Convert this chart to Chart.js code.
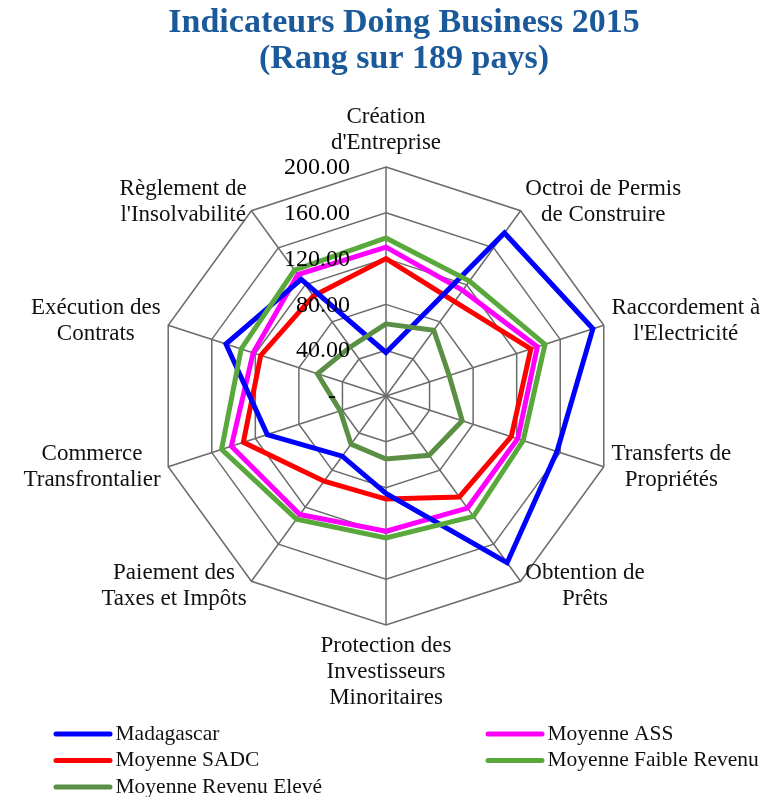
<!DOCTYPE html>
<html>
<head>
<meta charset="utf-8">
<script src="https://cdn.jsdelivr.net/npm/chart.js@4.4.1/dist/chart.umd.min.js"></script>
<style>
  body { margin: 0; background: #fff; }
  #wrap { width: 777px; height: 797px; }
</style>
</head>
<body>
<div id="wrap"><canvas id="radarChart" width="777" height="797"></canvas></div>
<script>
// axes, clockwise from the top
const indicators = [
    ['Création', "d'Entreprise"],
    ['Octroi de Permis', 'de Construire'],
    ['Raccordement à', "l'Electricité"],
    ['Transferts de', 'Propriétés'],
    ['Obtention de', 'Prêts'],
    ['Protection des', 'Investisseurs', 'Minoritaires'],
    ['Paiement des', 'Taxes et Impôts'],
    ['Commerce', 'Transfrontalier'],
    ['Exécution des', 'Contrats'],
    ['Règlement de', "l'Insolvabilité"]
];

// rank out of 189
const madagascar = [38, 176, 190, 157, 180, 85, 65, 109, 147, 126];
const moyenneASS = [130, 114, 139, 121, 121, 118, 128, 142, 122, 131];
const moyenneSADC = [120, 102, 133, 115, 109, 90, 92, 131, 115, 108];
const moyenneFaibleRevenu = [138, 124, 146, 126, 130, 124, 133, 151, 133, 136];
const moyenneRevenuEleve = [63, 71, 58, 70, 64, 55, 52, 42, 63, 53];

const tickValues = [0, 40, 80, 120, 160, 200];
const tickLabels = ['-', '40.00', '80.00', '120.00', '160.00', '200.00'];
const titleLines = ['Indicateurs Doing Business 2015', '(Rang sur 189 pays)'];

const serif = '"Liberation Serif", "DejaVu Serif", serif';

// title, point labels, tick labels and legend drawn Excel-style
const excelText = {
    id: 'excelText',
    afterDraw(chart) {
        const ctx = chart.ctx;
        const r = chart.scales.r;
        ctx.save();

        ctx.fillStyle = '#1B5A9A';
        ctx.font = 'bold 34px ' + serif;
        ctx.textAlign = 'center';
        ctx.textBaseline = 'alphabetic';
        titleLines.forEach((t, i) => ctx.fillText(t, 404, 32 + i * 36));

        // axis labels
        ctx.fillStyle = '#111';
        ctx.font = '23px ' + serif;
        ctx.textBaseline = 'middle';
        const lh = 26;
        const n = chart.data.labels.length;
        chart.data.labels.forEach((lines, i) => {
            const ang = Math.PI * 2 * i / n;
            const s = Math.sin(ang), c = Math.cos(ang);
            const top = Math.abs(s) < 0.01 && c > 0;
            const p = r.getPointPosition(i, r.drawingArea + (top ? 11 : 8));
            const w = Math.max(...lines.map(l => ctx.measureText(l).width));
            const h = lines.length * lh;
            let cx, y0;
            if (Math.abs(s) < 0.01) {
                cx = p.x;
                y0 = c > 0 ? p.y - h : p.y;
            } else {
                cx = s > 0 ? p.x + w / 2 : p.x - w / 2;
                y0 = p.y - h / 2 - 2;
            }
            lines.forEach((l, k) => ctx.fillText(l, cx, y0 + lh / 2 + k * lh));
        });

        // tick labels, left of the vertical axis
        ctx.font = '24px ' + serif;
        ctx.textAlign = 'right';
        ctx.fillStyle = '#000';
        tickValues.forEach((v, i) => {
            const y = r.yCenter - r.getDistanceFromCenterForValue(v);
            const x = v === 0 ? r.xCenter - 50 : r.xCenter - 36;
            ctx.fillText(tickLabels[i], x, y + 1);
        });

        // legend, two columns
        ctx.font = '21.5px ' + serif;
        ctx.textAlign = 'left';
        ctx.lineCap = 'round';
        ctx.lineWidth = 5;
        chart.data.datasets.forEach((ds, i) => {
            const x = i % 2 === 0 ? 56 : 488;
            const y = 734 + Math.floor(i / 2) * 26.5;
            ctx.strokeStyle = ds.borderColor;
            ctx.beginPath();
            ctx.moveTo(x, y);
            ctx.lineTo(x + 54, y);
            ctx.stroke();
            ctx.fillStyle = '#111';
            ctx.fillText(ds.label, x + 59.5, y);
        });

        ctx.restore();
    }
};

const ctx = document.getElementById('radarChart').getContext('2d');
const radarChart = new Chart(ctx, {
    type: 'radar',
    data: {
        labels: indicators,
        datasets: [
            { label: 'Madagascar', data: madagascar, borderColor: '#0000FF', order: 2 },
            { label: 'Moyenne ASS', data: moyenneASS, borderColor: '#FF00FF', order: 4 },
            { label: 'Moyenne SADC', data: moyenneSADC, borderColor: '#FF0000', order: 3 },
            { label: 'Moyenne Faible Revenu', data: moyenneFaibleRevenu, borderColor: '#58A83C', order: 1 },
            { label: 'Moyenne Revenu Elevé', data: moyenneRevenuEleve, borderColor: '#5B8F45', order: 0 }
        ]
    },
    options: {
        responsive: false,
        animation: false,
        layout: { padding: { left: 157, right: 162, top: 167, bottom: 172 } },
        elements: {
            line: { borderWidth: 5, tension: 0, fill: false, borderJoinStyle: 'miter' },
            point: { radius: 0, hoverRadius: 0 }
        },
        plugins: {
            legend: { display: false },
            title: { display: false },
            tooltip: { enabled: false }
        },
        scales: {
            r: {
                min: 0,
                max: 200,
                ticks: { stepSize: 40, display: false },
                pointLabels: { display: false },
                grid: { color: '#6b6b6b', lineWidth: 1.5 },
                angleLines: { color: '#6b6b6b', lineWidth: 1.5 }
            }
        }
    },
    plugins: [excelText]
});
</script>
</body>
</html>
